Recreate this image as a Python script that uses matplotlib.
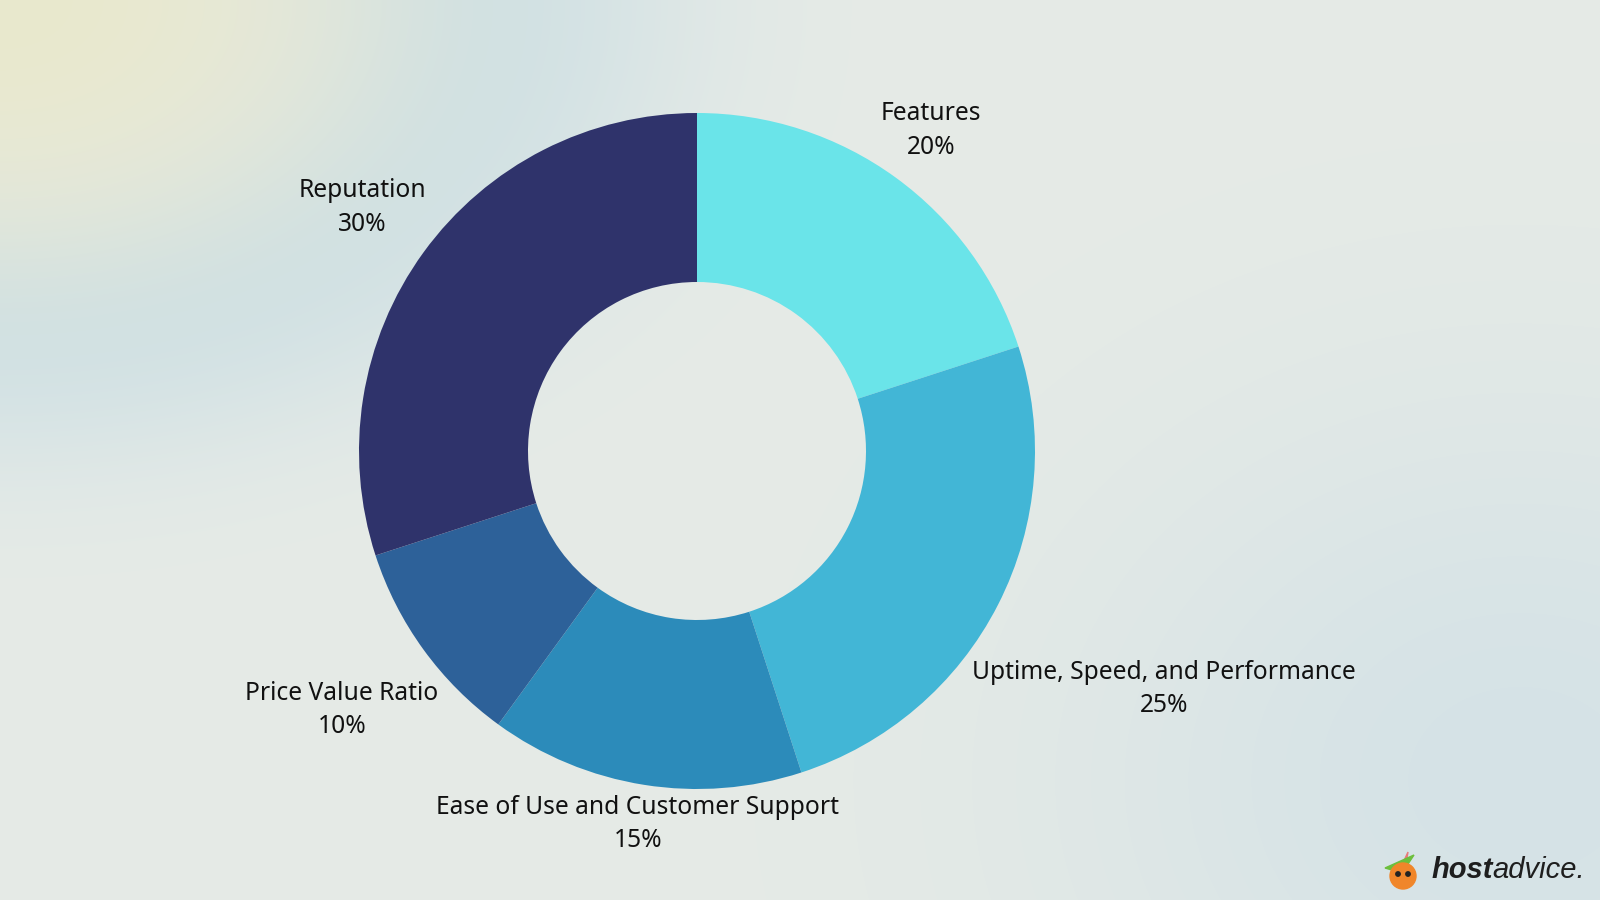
import numpy as np
import matplotlib.pyplot as plt
from matplotlib.patches import Circle, Polygon

# data
categories = ["Features", "Uptime, Speed, and Performance", "Ease of Use and Customer Support",
              "Price Value Ratio", "Reputation"]
shares = [20, 25, 15, 10, 30]
colors = ["#6AE4E9", "#42B6D6", "#2C8BBA", "#2D6199", "#2F336B"]

# label anchors in pie-radius units (layout)
label_pos = [(0.692, 0.948), (1.382, -0.704), (-0.175, -1.104), (-1.05, -0.766), (-0.991, 0.72)]

W, H = 1600, 900
CX, CY = 697, 449          # pie centre, px from bottom-left
R = 338                    # outer radius, px

fig = plt.figure(figsize=(16, 9), dpi=100)

# ---- background gradient ----
bg = fig.add_axes([0, 0, 1, 1])
yy, xx = np.mgrid[0:H, 0:W].astype(float)
base = np.array([230, 235, 231], float)
img = np.ones((H, W, 3)) * base
# yellow corner top-left
d_tl = np.sqrt((xx / 1.4) ** 2 + (yy * 1.05) ** 2)
wy = np.exp(-(d_tl / 260) ** 2)
# blue band around top-left
wb = np.exp(-((d_tl - 340) / 150) ** 2)
# blue glow bottom-right
d_br = np.sqrt(((xx - 1520) / 1.2) ** 2 + (yy - 780) ** 2)
wbr = np.exp(-(d_br / 380) ** 2) * 0.85
yellow = np.array([233, 232, 205], float)
blue = np.array([206, 224, 230], float)
blue2 = np.array([210, 225, 231], float)
for w, c in [(wb, blue), (wbr, blue2), (wy, yellow)]:
    img = img * (1 - w[..., None]) + c * w[..., None]
bg.imshow(img.astype(np.uint8), extent=[0, W, H, 0], aspect="auto", interpolation="bilinear")
bg.set_xlim(0, W)
bg.set_ylim(H, 0)
bg.axis("off")

# ---- donut ----
ax = fig.add_axes([0, 0, 1, 1])
ax.pie(shares, colors=colors, startangle=90, counterclock=False, radius=1,
       wedgeprops=dict(width=0.5, edgecolor="none", linewidth=0))
ax.set_xlim(-CX / R, (W - CX) / R)
ax.set_ylim(-CY / R, (H - CY) / R)
ax.set_aspect("equal")
ax.axis("off")

for cat, val, (lx, ly) in zip(categories, shares, label_pos):
    ax.text(lx, ly, f"{cat}\n{val}%", ha="center", va="center", fontsize=17.7,
            family="Noto Sans", color="#111111", linespacing=1.45)

# ---- logo ----
fig.text(1432 / W, 30 / H, "host", fontsize=21, fontweight="bold", style="italic",
         family="Liberation Sans", color="#1e1e1e", ha="left", va="center")
fig.text(1492 / W, 30 / H, "advice.", fontsize=21, style="italic",
         family="Liberation Sans", color="#1e1e1e", ha="left", va="center")
bg.add_patch(Polygon([[1408, 852], [1396, 878], [1404, 875]], closed=True, color="#e87a7a"))
bg.add_patch(Polygon([[1385, 868], [1414, 855], [1402, 873]], closed=True, color="#6cbf3c"))
bg.add_patch(Circle((1403, 876), 13, color="#f0862a"))
bg.add_patch(Circle((1398, 874), 2.2, color="#222222"))
bg.add_patch(Circle((1408, 874), 2.2, color="#222222"))

fig.savefig("out.png", dpi=100)
